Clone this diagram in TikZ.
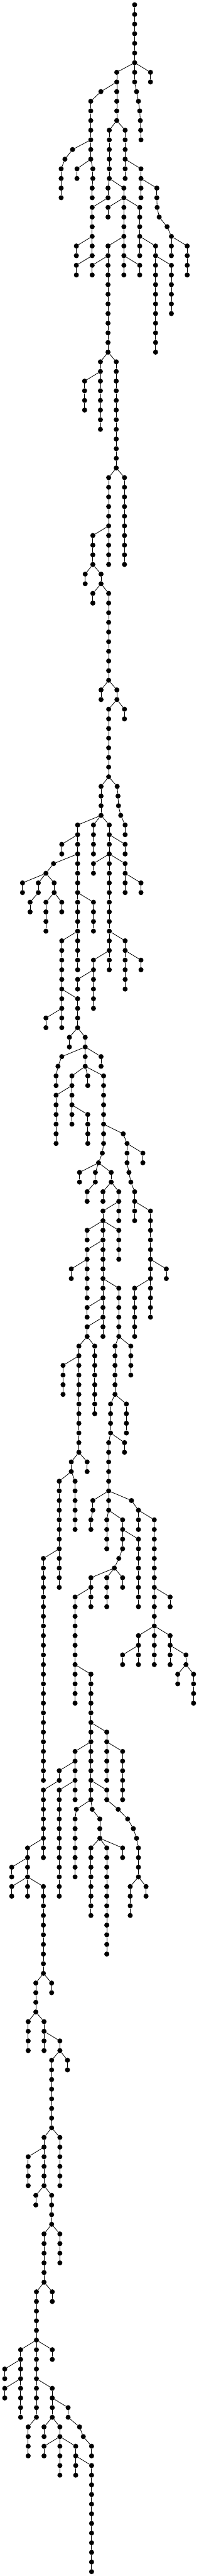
\documentclass[tikz,border=0pt]{standalone}
\tikzset{vtx/.style={circle,fill=black,draw=none,inner sep=0pt,minimum size=10.6pt},
  link/.style={line width=1.1pt,black}}
\newcommand\vr[4]{%
  \xdef\prevnode{#1}%
  \foreach \mylev in {#3,...,#4}{%
    \node[vtx] (n#2L\mylev) at (#2,\mylev) {};%
    \ifx\prevnode\empty\else\draw[link] (\prevnode) -- (n#2L\mylev);\fi
    \xdef\prevnode{n#2L\mylev}%
  }%
}
\newcommand\br[3]{%
  \xdef\prevnode{#1}%
  \foreach \xx [count=\ii from 0] in {#3}{%
    \pgfmathtruncatemacro\mylev{#2+\ii}%
    \node[vtx] (n\xx L\mylev) at (\xx,\mylev) {};%
    \draw[link] (\prevnode) -- (n\xx L\mylev);%
    \xdef\prevnode{n\xx L\mylev}%
  }%
}
\begin{document}
\begin{tikzpicture}[x=0.333333pt,y=-20.27pt]
\useasboundingbox (0,-0.4933) rectangle (1254,266.45);
% top
\vr{}{850}{0}{6}
\vr{n850L6}{737}{7}{12}
\br{n850L6}{7}{850,850,862,874,882,886,888,890}
\vr{n850L6}{950}{7}{8}
\br{n737L8}{9}{637,573}
\vr{n573L10}{573}{11}{16}
\br{n573L14}{15}{458,410,386,386,386,386}
\vr{n573L16}{486}{17}{18}
\br{n573L16}{17}{586,586,582,582}
\vr{n737L12}{690}{13}{18}
\vr{n737L12}{790}{13}{18}
\vr{n790L16}{890}{17}{20}
\br{n890L18}{19}{990,990,992,1005,1055,1082}
\vr{n690L18}{682}{19}{20}
\vr{n690L18}{782}{19}{20}
\vr{n682L20}{582}{21}{26}
\vr{n782L20}{682}{21}{22}
\vr{n782L20}{782}{21}{28}
\vr{n782L20}{882}{21}{26}
% part 2
\vr{n582L24}{482}{25}{26}
\vr{n582L26}{482}{27}{28}
\vr{n782L24}{682}{25}{36}
\vr{n682L26}{582}{27}{28}
\vr{n782L26}{882}{27}{28}
\vr{n882L24}{982}{25}{36}
\vr{n982L26}{1082}{27}{32}
\vr{n1082L24}{1082}{25}{26}
\vr{n1082L24}{1182}{25}{28}
\vr{n682L36}{634}{37}{44}
\vr{n634L38}{534}{39}{42}
\vr{n682L36}{734}{37}{48}
% part 3
\vr{n734L48}{786}{49}{58}
\vr{n734L48}{686}{49}{58}
\vr{n686L54}{586}{55}{58}
\vr{n586L58}{538}{59}{60}
\vr{n586L58}{638}{59}{60}
\vr{n638L60}{586}{61}{62}
\vr{n638L60}{686}{61}{70}
% part 4
\vr{n686L70}{638}{71}{72}
\vr{n686L70}{738}{71}{72}
\vr{n738L72}{786}{73}{74}
\vr{n738L72}{686}{73}{80}
\br{n686L80}{81}{740,745,748,762,790,790}
\vr{n686L80}{638}{81}{84}
\vr{n638L84}{490}{85}{100}
\vr{n490L86}{390}{87}{88}
\vr{n638L84}{590}{85}{88}
\vr{n638L84}{690}{85}{100}
\vr{n690L86}{790}{87}{88}
% part 5
\br{n490L88}{89}{338,290}
\vr{n290L90}{142}{91}{92}
\br{n290L90}{91}{242,242,190,190}
\vr{n290L90}{342}{91}{92}
\vr{n342L92}{290}{93}{96}
\vr{n342L92}{390}{93}{94}
\vr{n490L92}{590}{93}{96}
\vr{n490L96}{390}{97}{106}
\vr{n390L104}{290}{105}{106}
\vr{n390L102}{490}{103}{106}
\vr{n490L106}{438}{107}{108}
\vr{n490L106}{538}{107}{110}
\vr{n538L108}{638}{109}{110}
\br{n538L108}{109}{390,366,354,354}
\vr{n690L88}{590}{89}{90}
\vr{n690L88}{790}{89}{92}
\vr{n790L90}{890}{91}{92}
\vr{n690L96}{790}{97}{102}
\vr{n790L98}{890}{99}{100}
\vr{n690L98}{590}{99}{104}
\vr{n590L100}{490}{101}{102}
% part 6
\vr{n538L110}{454}{111}{116}
\vr{n454L112}{354}{113}{118}
\vr{n454L114}{554}{115}{118}
\vr{n538L110}{554}{111}{112}
\vr{n538L110}{654}{111}{118}
\br{n654L118}{119}{646,622}
\vr{n622L120}{502}{121}{122}
\br{n622L120}{121}{602,602,550,550}
\vr{n622L120}{702}{121}{122}
\vr{n702L122}{650}{123}{124}
\vr{n702L122}{750}{123}{126}
\vr{n750L124}{650}{125}{138}
\vr{n650L126}{550}{127}{128}
\vr{n650L126}{750}{127}{130}
\vr{n650L128}{550}{129}{134}
\vr{n550L130}{450}{131}{132}
\vr{n650L132}{750}{133}{138}
\vr{n650L134}{550}{135}{136}
\vr{n650L136}{550}{137}{138}
\br{n654L116}{117}{778,802}
\vr{n802L118}{902}{119}{120}
\br{n802L118}{119}{802,802,814,826,850,850}
\vr{n850L124}{850}{125}{126}
\vr{n850L124}{950}{125}{136}
\vr{n950L130}{1050}{131}{132}
\vr{n950L132}{850}{133}{138}
% part 7
\vr{n550L138}{598}{139}{146}
\vr{n550L138}{498}{139}{150}
\vr{n498L140}{398}{141}{144}
\vr{n498L150}{550}{151}{152}
\vr{n498L150}{450}{151}{152}
\vr{n450L152}{374}{153}{164}
\vr{n450L152}{474}{153}{158}
\vr{n750L138}{826}{139}{142}
\vr{n750L138}{726}{139}{144}
\vr{n726L144}{798}{145}{148}
\vr{n726L144}{698}{145}{148}
\vr{n698L148}{786}{149}{150}
\vr{n698L148}{686}{149}{156}
\br{n686L154}{155}{586,586,574,574}
\br{n686L154}{155}{830,874}
% part 8
\vr{n374L160}{274}{161}{184}
\vr{n686L156}{674}{157}{160}
\vr{n686L156}{774}{157}{160}
\vr{n774L158}{874}{159}{166}
\br{n774L160}{161}{750,722}
\vr{n722L162}{774}{163}{164}
\vr{n722L162}{674}{163}{166}
\vr{n722L162}{574}{163}{166}
\vr{n574L164}{474}{165}{176}
\vr{n474L172}{574}{173}{186}
\vr{n874L156}{874}{157}{158}
\vr{n874L156}{974}{157}{172}
\vr{n974L164}{1074}{165}{166}
\vr{n974L168}{874}{169}{172}
\vr{n874L170}{774}{171}{172}
\vr{n974L168}{1074}{169}{172}
\vr{n1074L170}{1174}{171}{172}
\vr{n1174L172}{1122}{173}{174}
\vr{n1174L172}{1222}{173}{176}
% part 9
\vr{n574L178}{674}{179}{184}
\vr{n674L180}{774}{181}{186}
\vr{n574L180}{474}{181}{186}
\vr{n474L182}{374}{183}{184}
\vr{n374L184}{274}{185}{192}
\vr{n274L190}{174}{191}{196}
\vr{n174L192}{74}{193}{194}
\vr{n174L194}{74}{195}{196}
\vr{n174L194}{274}{195}{204}
\vr{n474L184}{374}{185}{196}
\br{n574L184}{185}{674,674,746,806,842,862,874,874,874,874}
\vr{n874L194}{822}{195}{198}
\vr{n874L194}{922}{195}{196}
\br{n574L186}{187}{482,474,474,474,474,474,474,474}
\br{n574L186}{187}{582,630,630,630}
\vr{n630L190}{574}{191}{198}
\vr{n630L190}{674}{191}{202}
\vr{n630L190}{774}{191}{192}
% part 10
\vr{n274L204}{326}{205}{206}
\vr{n274L204}{226}{205}{208}
\vr{n226L208}{178}{209}{212}
\vr{n226L208}{278}{209}{212}
\vr{n278L210}{378}{211}{212}
\vr{n378L212}{426}{213}{214}
\vr{n378L212}{326}{213}{220}
\vr{n326L220}{278}{221}{226}
\vr{n326L220}{378}{221}{226}
\vr{n278L222}{178}{223}{226}
% part 11
\vr{n278L226}{226}{227}{228}
\vr{n278L226}{326}{227}{230}
\vr{n326L230}{378}{231}{234}
\vr{n326L230}{278}{231}{236}
\vr{n278L236}{330}{237}{238}
\vr{n278L236}{230}{237}{250}
\vr{n230L242}{130}{243}{250}
\vr{n230L242}{330}{243}{244}
\vr{n130L244}{30}{245}{246}
\vr{n130L246}{30}{247}{248}
\vr{n230L246}{330}{247}{250}
\vr{n230L250}{178}{251}{254}
\vr{n330L250}{278}{251}{252}
\vr{n330L250}{378}{251}{256}
\vr{n378L252}{278}{253}{254}
\vr{n378L252}{478}{253}{256}
\vr{n478L254}{578}{255}{266}
\br{n330L248}{249}{430,430,502,526,578,578}
\end{tikzpicture}
\end{document}
